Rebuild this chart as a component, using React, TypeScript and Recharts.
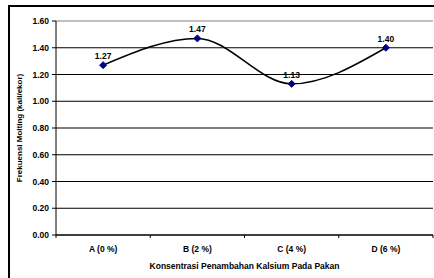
import React from "react";
import {
  LineChart,
  Line,
  XAxis,
  YAxis,
  CartesianGrid,
  ReferenceLine,
  LabelList,
} from "recharts";

const categories = ["A (0 %)", "B (2 %)", "C (4 %)", "D (6 %)"];
const molting = [1.27, 1.47, 1.13, 1.4];
const yTicks = [0, 0.2, 0.4, 0.6, 0.8, 1.0, 1.2, 1.4, 1.6];
const xTicks = [0, 0.5, 1, 1.5, 2, 2.5, 3, 3.5, 4];

const data = categories.map((name, i) => ({
  pos: i + 0.5,
  name,
  value: molting[i],
}));

const FONT = "'Liberation Sans', Arial, sans-serif";

const Diamond = (props: any) => {
  const { cx, cy } = props;
  if (cx == null || cy == null) return null;
  const r = 3.5;
  return (
    <path
      d={`M${cx},${cy - r}L${cx + r},${cy}L${cx},${cy + r}L${cx - r},${cy}Z`}
      fill="#000080"
      stroke="#000080"
      strokeWidth={1}
    />
  );
};

// integer positions get a tick mark (band edges), half positions get the category text
const BandTick = (props: any) => {
  const { x, y, payload } = props;
  const v = payload.value;
  if (Number.isInteger(v)) {
    return <line x1={x} y1={y} x2={x} y2={y + 3} stroke="#000" strokeWidth={1} />;
  }
  return (
    <text
      x={x}
      y={y + 17}
      textAnchor="middle"
      fontFamily={FONT}
      fontSize={8.5}
      fontWeight="bold"
      fill="#000"
    >
      {categories[Math.floor(v)]}
    </text>
  );
};

export default function App() {
  return (
    <div
      style={{
        position: "absolute",
        left: 0,
        top: 0,
        width: 434,
        height: 278,
        overflow: "hidden",
        background: "#fff",
      }}
    >
      <div
        style={{
          position: "absolute",
          left: 8,
          top: 5,
          width: 600,
          height: 400,
          borderTop: "2px solid #000",
          borderLeft: "2px solid #000",
        }}
      />
      <div style={{ position: "absolute", left: 0, top: 0 }}>
        <LineChart
          width={434}
          height={278}
          data={data}
          margin={{ top: 21, right: 1, left: 10, bottom: 0 }}
        >
          <CartesianGrid horizontal vertical={false} stroke="#000" strokeWidth={1} />
          <ReferenceLine y={1.6} stroke="#c0c0c0" strokeWidth={2} />
          <XAxis
            dataKey="pos"
            type="number"
            domain={[0, 4]}
            ticks={xTicks}
            interval={0}
            height={43}
            tickLine={false}
            tickSize={0}
            tickMargin={0}
            axisLine={{ stroke: "#000" }}
            tick={<BandTick />}
            label={{
              value: "Konsentrasi Penambahan Kalsium Pada Pakan",
              position: "insideBottom",
              offset: 9,
              style: { fontFamily: FONT, fontSize: 8.5, fontWeight: "bold", fill: "#000" },
            }}
          />
          <YAxis
            domain={[0, 1.6]}
            ticks={yTicks}
            interval={0}
            width={46}
            tickSize={4}
            tickMargin={3}
            axisLine={{ stroke: "#000" }}
            tickLine={{ stroke: "#000" }}
            tickFormatter={(v: number) => v.toFixed(2)}
            tick={{ fontFamily: FONT, fontSize: 8.5, fontWeight: "bold", fill: "#000" }}
            label={{
              value: "Frekuensi Molting (kali/ekor)",
              angle: -90,
              position: "insideLeft",
              offset: 9,
              textAnchor: "middle",
              style: { fontFamily: FONT, fontSize: 8, fontWeight: "bold", fill: "#000", textAnchor: "middle" },
            }}
          />
          <Line
            type="monotone"
            dataKey="value"
            stroke="#000"
            strokeWidth={1.5}
            dot={<Diamond />}
            activeDot={false}
            isAnimationActive={false}
          >
            <LabelList
              dataKey="value"
              position="top"
              offset={6}
              formatter={(v: any) => Number(v).toFixed(2)}
              style={{ fontFamily: FONT, fontSize: 8.5, fontWeight: "bold", fill: "#000" }}
            />
          </Line>
        </LineChart>
      </div>
    </div>
  );
}
